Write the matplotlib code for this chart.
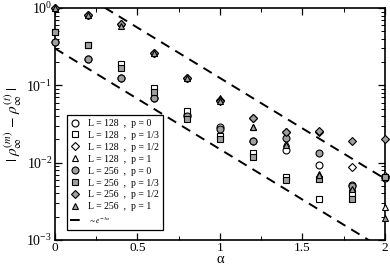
import matplotlib
matplotlib.use("Agg")
import matplotlib.pyplot as plt
import numpy as np
from matplotlib.ticker import MultipleLocator, LogLocator, LogFormatterMathtext, NullFormatter

plt.rcParams["font.family"] = ["Liberation Serif", "DejaVu Serif"]
plt.rcParams["mathtext.fontset"] = "stix"

alpha = [0.0, 0.2, 0.4, 0.6, 0.8, 1.0, 1.2, 1.4, 1.6, 1.8, 2.0]

# L = 128
c128_p0 = [0.36, 0.22, 0.125, 0.068, 0.041, 0.029, 0.019, 0.0146, 0.0094, 0.0052, 0.0066]
c128_p13 = [0.49, 0.33, 0.19, 0.093, 0.046, 0.022, 0.0135, 0.0066, 0.0034, 0.0041, 0.0065]
c128_p12 = [1.0, 0.81, 0.62, 0.26, 0.125, 0.065, 0.038, 0.025, 0.025, 0.0087, 0.0068]
c128_p1 = [1.0, 0.81, 0.65, 0.26, 0.125, 0.068, 0.029, 0.018, 0.0072, 0.0048, 0.0027]
# L = 256
c256_p0 = [0.36, 0.22, 0.125, 0.068, 0.040, 0.027, 0.019, 0.021, 0.0134, 0.0050, 0.0064]
c256_p13 = [0.49, 0.33, 0.17, 0.083, 0.037, 0.020, 0.012, 0.0060, 0.0062, 0.0034, 0.0065]
c256_p12 = [1.0, 0.81, 0.62, 0.26, 0.125, 0.062, 0.038, 0.025, 0.026, 0.019, 0.020]
c256_p1 = [1.0, 0.81, 0.59, 0.26, 0.125, 0.062, 0.029, 0.017, 0.0070, 0.0046, 0.0019]

# guide lines ~ A * exp(-3 alpha)
guide_amp = [2.5, 0.3]

series = [
    (c128_p0, "o", "white", "L = 128  ,  p = 0"),
    (c128_p13, "s", "white", "L = 128  ,  p = 1/3"),
    (c128_p12, "D", "white", "L = 128  ,  p = 1/2"),
    (c128_p1, "^", "white", "L = 128  ,  p = 1"),
    (c256_p0, "o", "#a0a0a0", "L = 256  ,  p = 0"),
    (c256_p13, "s", "#a0a0a0", "L = 256  ,  p = 1/3"),
    (c256_p12, "D", "#a0a0a0", "L = 256  ,  p = 1/2"),
    (c256_p1, "^", "#a0a0a0", "L = 256  ,  p = 1"),
]

fig = plt.figure(figsize=(3.9, 2.68), dpi=100)
ax = fig.add_axes([0.141, 0.1045, 0.846, 0.8655])

for vals, mk, fc, lab in series:
    ms = 4.2 if mk == "D" else 5
    ax.plot(alpha, vals, ls="none", marker=mk, ms=ms, mfc=fc, mec="black",
            mew=0.8, label=lab, clip_on=False, zorder=3)

xs = np.linspace(0, 2, 200)
for i, a in enumerate(guide_amp):
    ax.plot(xs, a * np.exp(-3 * xs), color="black", ls=(0, (5, 3.5)), lw=1.4,
            label=r"$\sim e^{-3\alpha}$" if i == 0 else None, zorder=2)

ax.set_yscale("log")
ax.set_xlim(0, 2)
ax.set_ylim(1e-3, 1)
ax.xaxis.set_minor_locator(MultipleLocator(0.25))
ax.set_xticks([0, 0.5, 1, 1.5, 2])
ax.set_xticklabels(["0", "0.5", "1", "1.5", "2"])
ax.yaxis.set_major_locator(LogLocator(base=10, numticks=10))
ax.yaxis.set_minor_locator(LogLocator(base=10, subs=np.arange(2, 10), numticks=10))
ax.yaxis.set_major_formatter(LogFormatterMathtext())
ax.yaxis.set_minor_formatter(NullFormatter())
ax.tick_params(which="both", direction="in", top=True, right=True, labelsize=10)
ax.tick_params(which="major", length=5, width=0.9)
ax.tick_params(which="minor", length=3, width=0.7)
ax.tick_params(axis="x", which="major", labelsize=9.5, pad=1.5)
ax.tick_params(axis="y", which="major", pad=2)
for sp in ax.spines.values():
    sp.set_linewidth(1.2)

ax.set_xlabel("α", fontsize=10.5)
ax.xaxis.set_label_coords(0.5, -0.114)
ax.xaxis.label.set_va("bottom")
ax.set_ylabel(r"$|\;\rho_\infty^{(m)}\,-\,\rho_\infty^{(t)}\;|$", fontsize=11)
ax.yaxis.set_label_coords(-0.128, 0.5)
ax.yaxis.label.set_va("center")

leg = ax.legend(loc="lower left", bbox_to_anchor=(0.035, 0.045), fontsize=7,
                frameon=True, fancybox=False, edgecolor="black", framealpha=1,
                labelspacing=0.3, handlelength=1.0, handletextpad=0.8,
                borderpad=0.4, borderaxespad=0)
leg.get_frame().set_linewidth(0.9)
leg.get_texts()[-1].set_fontsize(5.5)

fig.savefig("out.png", dpi=100)
